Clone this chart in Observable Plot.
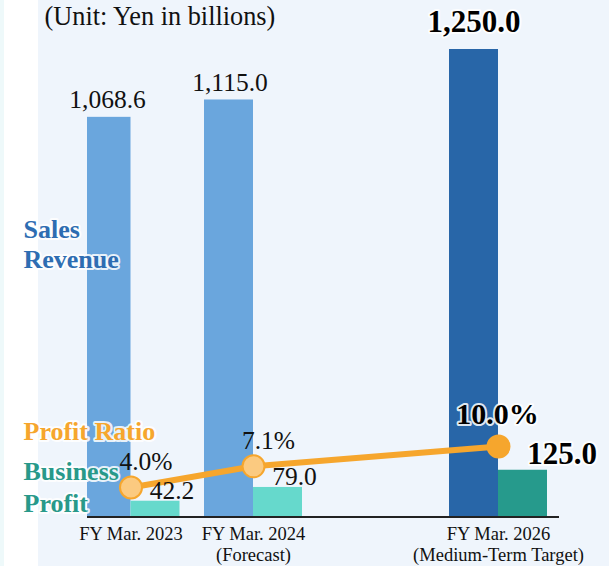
<!DOCTYPE html>
<html><head><meta charset="utf-8">
<script src="https://cdn.jsdelivr.net/npm/d3@7"></script>
<script src="https://cdn.jsdelivr.net/npm/@observablehq/plot@0.6"></script>
<style>
body{margin:0;background:#fff;width:614px;height:566px;overflow:hidden;position:relative;}
#strip{position:absolute;left:0;top:0;width:4px;height:566px;background:#eef9fa}
#panel{position:absolute;left:38px;top:0;width:571px;height:566px;background:#eff5fc}
#chart{position:absolute;left:0;top:0}
#chart svg{background:none;font-family:'Liberation Serif','Times New Roman',serif}
#chart svg text{font-family:'Liberation Serif','Times New Roman',serif}
</style></head><body>
<div id="strip"></div><div id="panel"></div><div id="chart"></div>
<script>
// ---- data ----
const categories = ["FY Mar. 2023", "FY Mar. 2024", "FY Mar. 2025", "FY Mar. 2026"]; // 2025 slot left empty
const shownCategories = ["FY Mar. 2023", "FY Mar. 2024", "FY Mar. 2026"];
const tickSubtitles = ["", "(Forecast)", "(Medium-Term Target)"];
const salesRevenue = [1068.6, 1115.0, 1250.0];
const businessProfit = [42.2, 79.0, 125.0];
const profitRatio = [4.0, 7.1, 10.0];
const isTarget = [false, false, true];
const unitText = "(Unit: Yen in billions)";

// ---- styles ----
const revenueColors = ["#6aa6dd", "#6aa6dd", "#2866a8"];
const profitColors = ["#66d9cc", "#66d9cc", "#269a8c"];
const orange = "#f6a62d";
const dotFills = ["#fbca80", "#fbca80", "#f6a62d"];
const serif = "'Liberation Serif', 'Times New Roman', serif";

const rows = shownCategories.map((c, i) => ({
  cat: c, revenue: salesRevenue[i], profit: businessProfit[i], ratio: profitRatio[i],
  target: isTarget[i], i
}));
// secondary (ratio) axis expressed in revenue units
const ratioToY = d3.scaleLinear().domain([0, 10]).range([5.9, 188.5]);
const fmt = d3.format(",.1f");
const tickLabel = new Map(shownCategories.map((c, i) => [c, tickSubtitles[i] ? c + "\n" + tickSubtitles[i] : c]));

const regular = rows.filter(d => !d.target);
const target = rows.filter(d => d.target);
const halo = {stroke: "white", strokeWidth: 4, strokeOpacity: 0.85};
const T = {fontFamily: serif};

const chart = Plot.plot({
  width: 614, height: 566,
  marginLeft: 87, marginRight: 55, marginTop: 0, marginBottom: 49.5,
  style: {background: "none", fontFamily: serif},
  x: {type: "band", domain: categories, range: [69.25, 559.25], paddingInner: 0.2, paddingOuter: 0.1, round: false, axis: null},
  y: {domain: [0, 1250], range: [516.5, 49], axis: null},
  marks: [
    // sales revenue bars
    Plot.barY(rows.filter(d => d.i === 0), {x: "cat", y: "revenue", fill: d => revenueColors[d.i], insetRight: 49, insetLeft: 5.5}),
    Plot.barY(rows.filter(d => d.i !== 0), {x: "cat", y: "revenue", fill: d => revenueColors[d.i], insetRight: 49}),
    // business profit bars
    Plot.barY(rows, {x: "cat", y: "profit", fill: d => profitColors[d.i], insetLeft: 49}),
    Plot.ruleY([0], {stroke: "#222", strokeWidth: 2}),
    Plot.axisX({ticks: shownCategories, tickSize: 0, tickPadding: 8, fontSize: 18.5, lineHeight: 1.13, label: null,
      tickFormat: c => tickLabel.get(c), fill: "#111", fontFamily: serif}),
    // profit ratio line
    Plot.line(rows, {x: "cat", y: d => ratioToY(d.ratio), stroke: orange, strokeWidth: 6}),
    Plot.dot(rows, {x: "cat", y: d => ratioToY(d.ratio), r: 11, fill: d => dotFills[d.i], stroke: orange, strokeWidth: 2}),
    // value labels: regular
    Plot.text(regular, {...T, x: "cat", y: "revenue", text: d => fmt(d.revenue), dx: -23.5, dy: -9, lineAnchor: "bottom", fontSize: 25.5, fill: "#111"}),
    Plot.text(regular, {...T, x: "cat", y: "profit", text: d => fmt(d.profit), dx: 41, dy: -2.5, lineAnchor: "bottom", fontSize: 25.5, fill: "#111"}),
    Plot.text(regular, {...T, x: "cat", y: d => ratioToY(d.ratio), text: d => d.ratio.toFixed(1) + "%", dx: 15, dy: -17.5, lineAnchor: "bottom", fontSize: 25.5, fill: "#111"}),
    // value labels: target (bold)
    Plot.text(target, {...T, x: "cat", y: "revenue", text: d => fmt(d.revenue), dx: -24.5, dy: -18, lineAnchor: "bottom", fontSize: 31, fontWeight: "bold", fill: "#000", ...halo}),
    Plot.text(target, {...T, x: "cat", y: "profit", text: d => fmt(d.profit), dx: 63.5, dy: -6.5, lineAnchor: "bottom", fontSize: 31, fontWeight: "bold", fill: "#000", ...halo}),
    Plot.text(target, {...T, x: "cat", y: d => ratioToY(d.ratio), text: d => d.ratio.toFixed(1) + "%", dx: -1, dy: -23, lineAnchor: "bottom", fontSize: 30, fontWeight: "bold", fill: "#000", ...halo}),
    // series annotations
    Plot.text(["Sales\nRevenue"], {...T, frameAnchor: "top-left", dx: -64, dy: 267, textAnchor: "start", lineAnchor: "bottom", lineHeight: 1.15, fontSize: 26, fontWeight: "bold", fill: "#2e6db2", ...halo}),
    Plot.text(["Profit Ratio"], {...T, frameAnchor: "top-left", dx: -64, dy: 439, textAnchor: "start", lineAnchor: "bottom", fontSize: 26, fontWeight: "bold", fill: orange, ...halo}),
    Plot.text(["Business\nProfit"], {...T, frameAnchor: "top-left", dx: -64, dy: 511, textAnchor: "start", lineAnchor: "bottom", lineHeight: 1.23, fontSize: 26, fontWeight: "bold", fill: "#28998a", ...halo}),
    Plot.text([unitText], {...T, frameAnchor: "top-left", dx: -43, dy: 24, textAnchor: "start", lineAnchor: "bottom", fontSize: 26.3, fill: "#111"})
  ]
});
document.getElementById("chart").appendChild(chart);
</script>
</body></html>
